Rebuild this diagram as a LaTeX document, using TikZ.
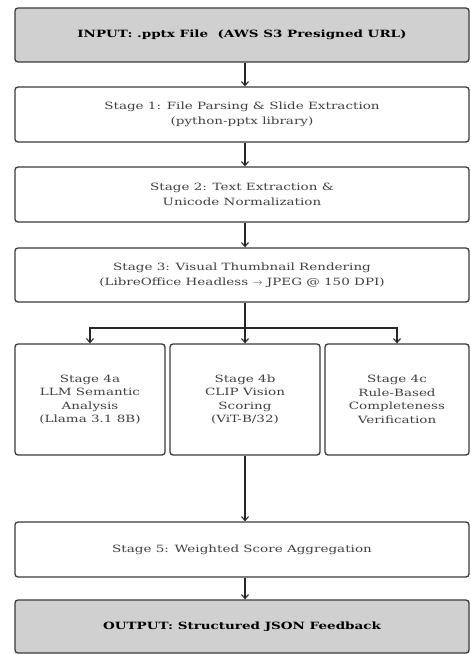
\documentclass[tikz,border=0pt]{standalone}
\usepackage{fontspec}
\setmainfont{DejaVu Serif}[FakeStretch=1.35]
\usetikzlibrary{arrows.meta}
\definecolor{edgec}{HTML}{3A3A3A}
\definecolor{ioc}{HTML}{D0D0D0}
\definecolor{txtc}{HTML}{404040}
\begin{document}
\begin{tikzpicture}[x=1pt,y=-1pt,
  box/.style={draw=edgec,line width=1.3pt,rounded corners=3pt,fill=white,
    align=center,inner sep=0pt,font=\fontsize{10}{15}\selectfont,text=txtc},
  quad/.style={box,font=\fontsize{10}{13.5}\selectfont},
  iobox/.style={box,fill=ioc,text=black,font=\fontsize{10}{15}\selectfont\bfseries},
  conn/.style={draw=black!85,line width=1.2pt,-{Straight Barb[length=4pt,width=7pt,line width=1.1pt]}},
  plain/.style={draw=black!85,line width=1.2pt}]
\useasboundingbox (0,0) rectangle (471,654);
\node[iobox,minimum width=454pt,minimum height=54pt] (in) at (242,35) {INPUT: .pptx File\ \ (AWS S3 Presigned URL)};
\node[box,minimum width=454pt,minimum height=55pt] (s1) at (242,114.5) {Stage 1: File Parsing \& Slide Extraction\\(python-pptx library)};
\node[box,minimum width=454pt,minimum height=55pt] (s2) at (242,194.5) {Stage 2: Text Extraction \&\\Unicode Normalization};
\node[box,minimum width=454pt,minimum height=54pt] (s3) at (242,275) {Stage 3: Visual Thumbnail Rendering\\(LibreOffice Headless $\rightarrow$ JPEG @ 150 DPI)};
\node[quad,minimum width=150pt,minimum height=111pt] (s4a) at (90,399.5) {Stage 4a\\LLM Semantic\\Analysis\\(Llama 3.1 8B)};
\node[quad,minimum width=150pt,minimum height=111pt] (s4b) at (245,399.5) {Stage 4b\\CLIP Vision\\Scoring\\(ViT-B/32)};
\node[quad,minimum width=144pt,minimum height=111pt] (s4c) at (397,399.5) {Stage 4c\\Rule-Based\\Completeness\\Verification};
\node[box,minimum width=454pt,minimum height=55pt] (s5) at (242,549.5) {Stage 5: Weighted Score Aggregation};
\node[iobox,minimum width=454pt,minimum height=53pt] (out) at (242,626.5) {OUTPUT: Structured JSON Feedback};
\coordinate (br) at (245,328);
\draw[conn] (in.south -| 245,0) -- (s1.north -| 245,0);
\draw[conn] (s1.south -| 245,0) -- (s2.north -| 245,0);
\draw[conn] (s2.south -| 245,0) -- (s3.north -| 245,0);
\draw[plain] (s3.south -| br) -- (br);
\draw[conn] (br) -- (s4b.north);
\draw[conn] (br) -| (s4a.north);
\draw[conn] (br) -| (s4c.north);
\draw[conn] (s4b.south) -- (s5.north -| s4b);
\draw[conn] (s5.south -| 245,0) -- (out.north -| 245,0);
\end{tikzpicture}
\end{document}
